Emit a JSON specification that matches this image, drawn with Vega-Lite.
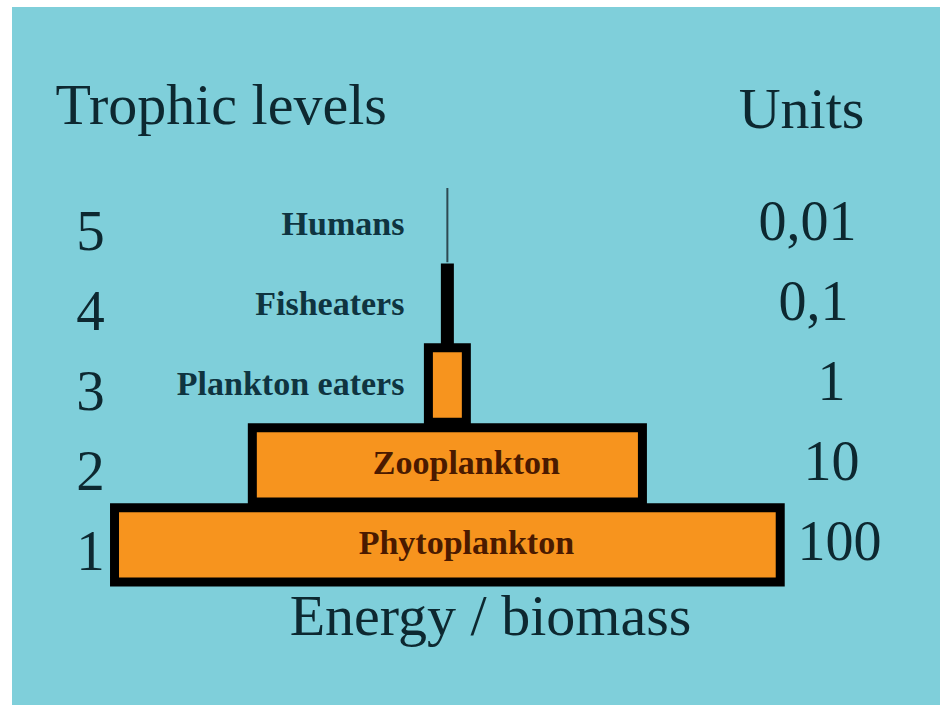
{
  "$schema": "https://vega.github.io/schema/vega-lite/v6.json",
  "width": 928,
  "height": 698,
  "autosize": {"type": "none"},
  "padding": {"left": 12, "top": 7, "right": 7, "bottom": 2},
  "background": "#ffffff",
  "config": {"view": {"fill": "#7FCFDA", "stroke": null}, "font": "Liberation Serif"},
  "data": {
    "values": [
      {"level": 1, "organism": "Phytoplankton", "units": "100", "drawnWidth": 100},
      {"level": 2, "organism": "Zooplankton", "units": "10", "drawnWidth": 58.6},
      {"level": 3, "organism": "Plankton eaters", "units": "1", "drawnWidth": 5.7},
      {"level": 4, "organism": "Fisheaters", "units": "0,1", "drawnWidth": 0.6},
      {"level": 5, "organism": "Humans", "units": "0,01", "drawnWidth": 0}
    ]
  },
  "layer": [
    {
      "layer": [
        {
          "mark": {"type": "bar", "fill": "#F7941E", "strokeJoin": "miter"},
          "encoding": {
            "y": {
              "field": "level",
              "type": "ordinal",
              "scale": {"type": "band", "domain": [5, 4, 3, 2, 1], "range": [181, 575], "paddingInner": 0.07, "paddingOuter": 0},
              "axis": {
                "orient": "left",
                "offset": -78,
                "domain": false,
                "ticks": false,
                "tickSize": 0,
                "grid": false,
                "labelPadding": 0,
                "labelAlign": "center",
                "labelBaseline": "alphabetic",
                "labelOffset": 25,
                "labelFontSize": 57,
                "labelColor": "#0D2830",
                "labelFont": "Liberation Serif",
                "title": "Trophic levels",
                "titleAngle": 0,
                "titleX": -35,
                "titleY": 116,
                "titleAlign": "left",
                "titleBaseline": "alphabetic",
                "titleFontSize": 58,
                "titleFontWeight": "normal",
                "titleFont": "Liberation Serif",
                "titleColor": "#0D2830"
              }
            },
            "x": {
              "field": "drawnWidth",
              "type": "quantitative",
              "stack": "center",
              "scale": {"domain": [-15.4, 124], "nice": false, "zero": false},
              "axis": {
                "domain": false,
                "ticks": false,
                "labels": false,
                "grid": false,
                "title": "Energy / biomass",
                "titleX": 478,
                "titleY": -71,
                "titleAlign": "center",
                "titleBaseline": "alphabetic",
                "titleFontSize": 58,
                "titleFontWeight": "normal",
                "titleFont": "Liberation Serif",
                "titleColor": "#0D2830"
              }
            },
            "stroke": {"condition": {"test": "datum.level === 5", "value": "#2D4A52"}, "value": "#000000"},
            "strokeWidth": {"condition": {"test": "datum.level === 5", "value": 2}, "value": 9}
          }
        },
        {
          "transform": [{"filter": "datum.level >= 3"}],
          "mark": {"type": "text", "align": "right", "baseline": "alphabetic", "dx": -43, "dy": 10, "fontSize": 34, "fontWeight": "bold", "font": "Liberation Serif", "color": "#0F3440"},
          "encoding": {
            "y": {"field": "level", "type": "ordinal"},
            "x": {"datum": 50, "type": "quantitative"},
            "text": {"field": "organism"}
          }
        },
        {
          "transform": [{"filter": "datum.level <= 2"}],
          "mark": {"type": "text", "align": "center", "baseline": "alphabetic", "dx": 19, "dy": 9, "fontSize": 34, "fontWeight": "bold", "font": "Liberation Serif", "color": "#4A1A00"},
          "encoding": {
            "y": {"field": "level", "type": "ordinal"},
            "x": {"datum": 50, "type": "quantitative"},
            "text": {"field": "organism"}
          }
        }
      ]
    },
    {
      "mark": {"type": "point", "opacity": 0},
      "encoding": {
        "y": {
          "field": "units",
          "type": "nominal",
          "scale": {"type": "band", "domain": ["0,01", "0,1", "1", "10", "100"], "range": [181, 575], "paddingInner": 0.07, "paddingOuter": 0},
          "axis": {
            "orient": "right",
            "offset": -117,
            "domain": false,
            "ticks": false,
            "tickSize": 0,
            "grid": false,
            "labelPadding": {
              "condition": [
                {"test": "datum.label === '0,01'", "value": -16},
                {"test": "datum.label === '0,1'", "value": -10},
                {"test": "datum.label === '100'", "value": 16}
              ],
              "value": 8
            },
            "labelAlign": "center",
            "labelBaseline": "alphabetic",
            "labelOffset": 15,
            "labelFontSize": 56,
            "labelColor": "#0D2830",
            "labelFont": "Liberation Serif",
            "title": "Units",
            "titleAngle": 0,
            "titleX": -22,
            "titleY": 120,
            "titleAlign": "center",
            "titleBaseline": "alphabetic",
            "titleFontSize": 58,
            "titleFontWeight": "normal",
            "titleFont": "Liberation Serif",
            "titleColor": "#0D2830"
          }
        }
      }
    }
  ],
  "resolve": {"scale": {"y": "independent"}}
}
